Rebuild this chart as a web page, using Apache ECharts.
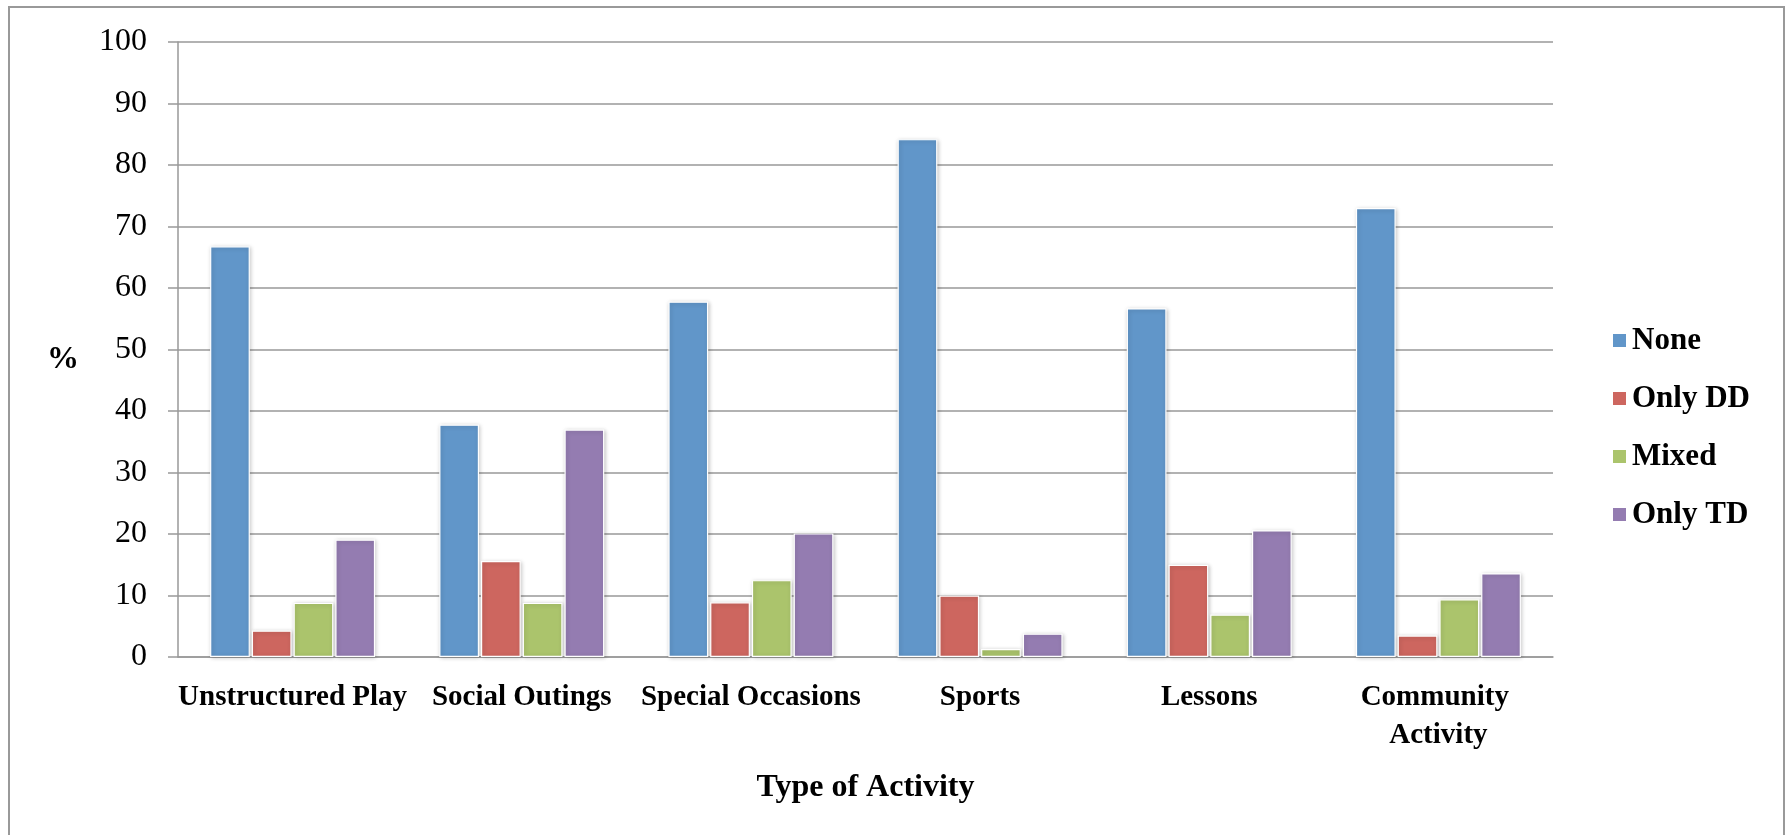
<!DOCTYPE html>
<html>
<head>
<meta charset="utf-8">
<script src="https://cdn.jsdelivr.net/npm/echarts@6/dist/echarts.min.js"></script>
<style>
  html, body { margin: 0; padding: 0; background: #fff; }
  #chart { width: 1788px; height: 835px; }
</style>
</head>
<body>
<div id="chart"></div>
<script>
// Activity categories along the x axis
const categories = ['Unstructured Play', 'Social Outings', 'Special Occasions', 'Sports', 'Lessons', 'Community Activity'];

// Percentages per group composition
const seriesNames = ['None', 'Only DD', 'Mixed', 'Only TD'];
const noneValues   = [66.8, 37.8, 57.8, 84.2, 56.7, 73.0];
const onlyDDValues = [4.3, 15.6, 8.9, 10.0, 15.0, 3.5];
const mixedValues  = [8.8, 8.8, 12.5, 1.3, 6.9, 9.4];
const onlyTDValues = [19.1, 37.0, 20.1, 3.8, 20.6, 13.6];

const colors = ['#6196C9', '#CD665F', '#ABC46C', '#947CB1'];
const serif = "'Liberation Serif', 'DejaVu Serif', serif";

const chart = echarts.init(document.getElementById('chart'), null, { renderer: 'canvas' });

function barSeries(name, values, color) {
  return {
    name: name,
    type: 'bar',
    data: values,
    barGap: '5%',
    barCategoryGap: '28%',
    itemStyle: {
      color: color,
      borderColor: '#ffffff',
      borderWidth: 1.2,
      shadowColor: 'rgba(0,0,0,0.22)',
      shadowBlur: 4,
      shadowOffsetX: 1,
      shadowOffsetY: 1
    },
    emphasis: { disabled: true }
  };
}

chart.setOption({
  animation: false,
  backgroundColor: '#ffffff',
  grid: { left: 178, top: 42, right: 235, bottom: 178, containLabel: false },
  legend: {
    orient: 'vertical',
    left: 1606,
    top: 320,
    itemWidth: 15,
    itemHeight: 15,
    itemGap: 27,
    icon: 'rect',
    textStyle: { fontFamily: serif, fontWeight: 'bold', fontSize: 31, lineHeight: 31, color: '#000' },
    data: seriesNames
  },
  xAxis: {
    type: 'category',
    data: categories,
    name: 'Type of Activity',
    nameLocation: 'middle',
    nameGap: 115,
    nameTextStyle: { fontFamily: serif, fontWeight: 'bold', fontSize: 32, color: '#000' },
    axisLine: { lineStyle: { color: '#999', width: 1.5 } },
    axisTick: { show: false },
    axisLabel: {
      fontFamily: serif,
      fontWeight: 'bold',
      fontSize: 29,
      lineHeight: 38,
      color: '#000',
      margin: 22,
      width: 236,
      overflow: 'break',
      interval: 0
    }
  },
  yAxis: {
    type: 'value',
    min: 0,
    max: 100,
    interval: 10,
    axisLine: { show: true, lineStyle: { color: '#999', width: 1.5 } },
    axisTick: { show: true, length: 10, lineStyle: { color: '#999', width: 1.5 } },
    axisLabel: { fontFamily: serif, fontSize: 32, color: '#000', margin: 31 },
    splitLine: { lineStyle: { color: '#999', width: 1.5 } }
  },
  graphic: [
    {
      type: 'rect',
      shape: { x: 9, y: 7, width: 1775, height: 900 },
      style: { fill: 'none', stroke: '#999', lineWidth: 2 },
      silent: true,
      z: -1
    },
    {
      type: 'text',
      x: 63,
      y: 360,
      style: {
        text: '%',
        fontFamily: serif,
        fontWeight: 'bold',
        fontSize: 32,
        fill: '#000',
        align: 'center',
        verticalAlign: 'middle'
      }
    }
  ],
  series: [
    barSeries(seriesNames[0], noneValues, colors[0]),
    barSeries(seriesNames[1], onlyDDValues, colors[1]),
    barSeries(seriesNames[2], mixedValues, colors[2]),
    barSeries(seriesNames[3], onlyTDValues, colors[3])
  ]
});
</script>
</body>
</html>
